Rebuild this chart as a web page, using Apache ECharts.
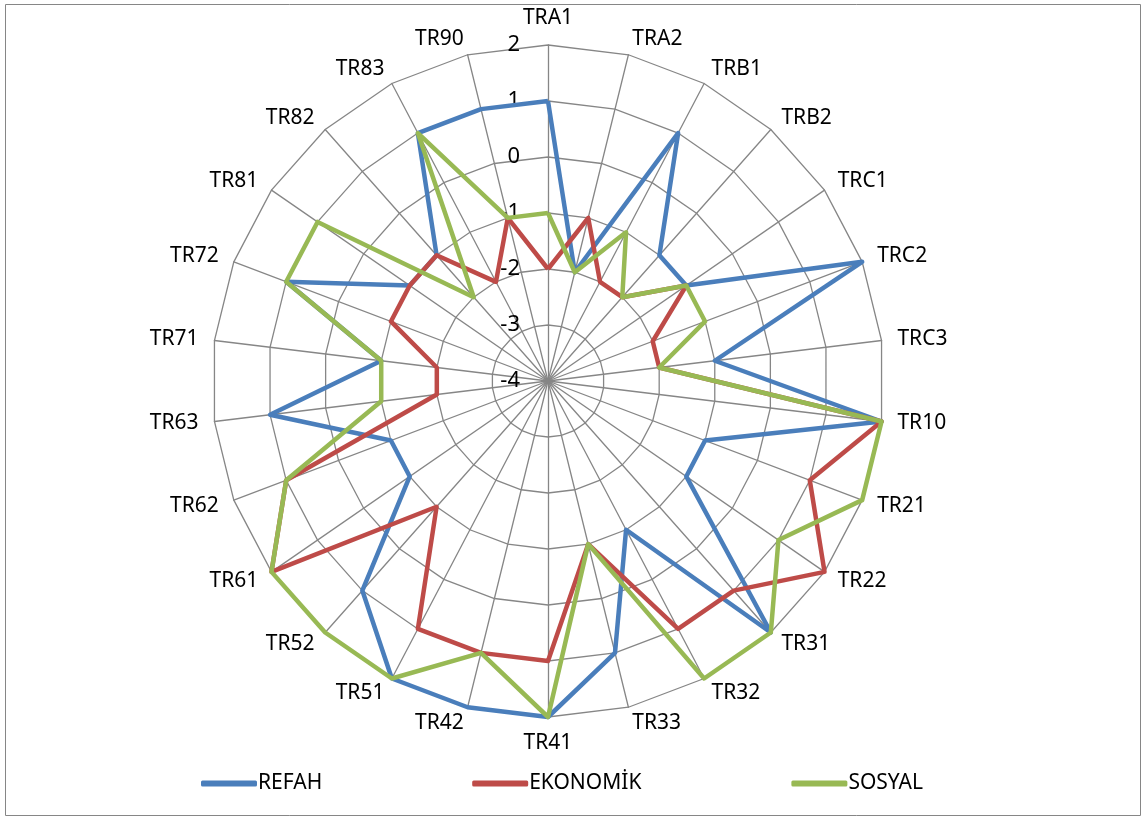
<!DOCTYPE html>
<html>
<head>
<meta charset="utf-8">
<script src="https://cdn.jsdelivr.net/npm/echarts@6/dist/echarts.min.js"></script>
<style>
html,body{margin:0;padding:0;background:#fff;}
#c{width:1146px;height:820px;}
</style>
</head>
<body>
<div id="c"></div>
<script>
var categories = ['TRA1','TRA2','TRB1','TRB2','TRC1','TRC2','TRC3','TR10','TR21','TR22','TR31','TR32','TR33','TR41','TR42','TR51','TR52','TR61','TR62','TR63','TR71','TR72','TR81','TR82','TR83','TR90'];
var refah    = [1,-2,1,-1,-1,2,-1,2,-1,-1,2,-1,1,2,2,2,1,-1,-1,1,-1,1,-1,-1,1,1];
var ekonomik = [-2,-1,-2,-2,-1,-2,-2,2,1,2,1,1,-1,1,1,1,-1,2,1,-2,-2,-1,-1,-1,-2,-1];
var sosyal   = [-1,-2,-1,-2,-1,-1,-2,2,2,1,2,2,-1,2,1,2,2,2,1,-1,-1,1,1,-2,1,-1];
var seriesNames = ['REFAH','EKONOMİK','SOSYAL'];
var axisMin = -4, axisMax = 2;

// ECharts radar runs counter-clockwise; reorder (keeping the first at top) so categories run clockwise
function cw(arr){ return [arr[0]].concat(arr.slice(1).reverse()); }

var FONT = "'Noto Sans', 'Liberation Sans', sans-serif";
var chart = echarts.init(document.getElementById('c'), null, {renderer:'canvas'});

var indicator = cw(categories).map(function(n, i){
  var o = {name:n, min:axisMin, max:axisMax};
  if (i === 0) {
    o.axisLabel = {show:true, showMinLabel:true, showMaxLabel:true, margin:28, color:'#000', fontSize:22, fontFamily:FONT};
  }
  return o;
});

var colors = ['#4A7EBB','#BE4B48','#98B954'];

chart.setOption({
  animation:false,
  backgroundColor:'#fff',
  graphic:[{type:'rect', shape:{x:5.5,y:4.5,width:1135,height:811}, style:{fill:'none', stroke:'#868686', lineWidth:1}, silent:true, z:-1}],
  legend:{
    data:seriesNames,
    left:196, top:768,
    icon:'roundRect', itemWidth:56, itemHeight:6, itemGap:150,
    textStyle:{fontSize:21, fontFamily:FONT, color:'#000', padding:[0,0,0,-4]}
  },
  radar:{
    center:[548,381], radius:336,
    startAngle:90, splitNumber:6, shape:'polygon',
    nameGap:16,
    axisName:{color:'#000', fontSize:21, fontFamily:FONT},
    axisLine:{lineStyle:{color:'#868686', width:1.3}},
    splitLine:{lineStyle:{color:'#868686', width:1.3}},
    splitArea:{show:false},
    axisTick:{show:false},
    axisLabel:{show:false},
    indicator:indicator
  },
  series:[{
    type:'radar',
    symbol:'none',
    data:[
      {name:seriesNames[0], value:cw(refah), lineStyle:{color:colors[0], width:4.5}, itemStyle:{color:colors[0]}},
      {name:seriesNames[1], value:cw(ekonomik), lineStyle:{color:colors[1], width:4.5}, itemStyle:{color:colors[1]}},
      {name:seriesNames[2], value:cw(sosyal), lineStyle:{color:colors[2], width:4.5}, itemStyle:{color:colors[2]}}
    ]
  }]
});
</script>
</body>
</html>
